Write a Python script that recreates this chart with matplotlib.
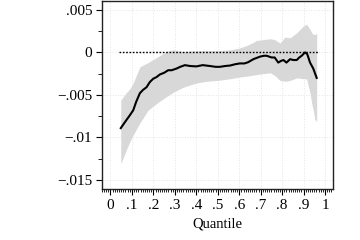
import numpy as np
import matplotlib
matplotlib.use("Agg")
import matplotlib.pyplot as plt
from matplotlib.ticker import FuncFormatter, MultipleLocator

plt.rcParams['font.family'] = ['Liberation Serif', 'DejaVu Serif']

# Quantile process estimate
q_line = [0.048, 0.07, 0.09, 0.106, 0.12, 0.137, 0.152, 0.168, 0.183, 0.199, 0.215, 0.23,
          0.25, 0.269, 0.285, 0.308, 0.325, 0.347, 0.37, 0.40, 0.43, 0.463, 0.49, 0.51,
          0.535, 0.557, 0.58, 0.603, 0.625, 0.642, 0.666, 0.697, 0.715, 0.728, 0.751,
          0.765, 0.782, 0.795, 0.806, 0.82, 0.837, 0.852, 0.868, 0.88, 0.891, 0.907,
          0.917, 0.93, 0.945, 0.961]
est = [-0.0089, -0.0081, -0.0074, -0.0068, -0.0058, -0.0048, -0.0044, -0.0041, -0.0035,
       -0.0031, -0.0029, -0.0026, -0.0024, -0.0021, -0.0021, -0.0019, -0.0017, -0.0015,
       -0.0016, -0.00165, -0.0015, -0.0016, -0.0017, -0.0017, -0.0016, -0.00155, -0.0014,
       -0.0013, -0.0013, -0.00115, -0.0008, -0.0005, -0.0004, -0.0004, -0.0006, -0.0006,
       -0.0012, -0.0010, -0.0009, -0.0012, -0.0008, -0.0009, -0.0009, -0.0006, -0.0004,
       0.0, -0.0002, -0.0012, -0.0019, -0.0030]

# Confidence band
q_band = [0.048, 0.075, 0.09, 0.106, 0.137, 0.175, 0.215, 0.261, 0.292, 0.339, 0.40,
          0.447, 0.50, 0.557, 0.60, 0.634, 0.66, 0.681, 0.744, 0.765, 0.79, 0.813, 0.837,
          0.868, 0.899, 0.914, 0.93, 0.938, 0.945, 0.953, 0.961]
upper = [-0.0056, -0.0047, -0.0043, -0.0036, -0.0017, -0.0012, -0.0006, 0.0001, 0.0003,
         0.0001, 0.0002, 0.0002, 0.0002, 0.0003, 0.0005, 0.0008, 0.0011, 0.0014, 0.0016,
         0.0015, 0.0011, 0.0018, 0.0017, 0.0023, 0.0031, 0.0033, 0.0027, 0.0023, 0.0021,
         0.0021, 0.0022]
lower = [-0.0131, -0.0114, -0.0105, -0.0097, -0.0083, -0.0068, -0.0060, -0.0052, -0.0047,
         -0.0041, -0.0036, -0.0034, -0.0033, -0.0031, -0.0029, -0.0028, -0.0027, -0.0026,
         -0.0024, -0.0027, -0.0033, -0.0034, -0.0033, -0.0030, -0.0031, -0.0031, -0.0048,
         -0.0060, -0.0068, -0.0079, -0.0081]

zero_span = [0.04, 0.97]
x_ticks = [0, .1, .2, .3, .4, .5, .6, .7, .8, .9, 1]
y_ticks = [-0.015, -0.01, -0.005, 0, 0.005]


def no_lead_zero(v, pos):
    if abs(v) < 1e-12:
        return "0"
    s = ("%g" % v).replace("0.", ".")
    return s.replace("-", "\u2212")


fig = plt.figure(figsize=(3.6, 2.4), dpi=100)
ax = fig.add_axes([0.283, 0.2125, 0.642, 0.785])

ax.fill_between(q_band, lower, upper, color="#d8d8d8", linewidth=0)
ax.plot(q_line, est, color="black", linewidth=1.5)
ax.plot(zero_span, [0, 0], color="black", linestyle=(0, (1.2, 1.2)), linewidth=1)

ax.set_xlim(-0.04, 1.037)
ax.set_ylim(-0.01605, 0.00608)
ax.set_xticks(x_ticks)
ax.set_yticks(y_ticks)
ax.xaxis.set_major_formatter(FuncFormatter(no_lead_zero))
ax.yaxis.set_major_formatter(FuncFormatter(no_lead_zero))
ax.xaxis.set_minor_locator(MultipleLocator(0.01))
ax.yaxis.set_minor_locator(MultipleLocator(0.0025))
ax.grid(True, which="major", color="#e4e4e4", linestyle=":", linewidth=0.7)
ax.set_axisbelow(True)

ax.tick_params(which="major", direction="out", length=4, width=0.8, labelsize=11, pad=3)
ax.tick_params(which="minor", direction="out", length=2, width=0.6)
ax.tick_params(axis="y", which="minor", length=3)
for sp in ax.spines.values():
    sp.set_linewidth(1.0)
    sp.set_color("#222222")

ax.set_xlabel("Quantile", fontsize=10.5, labelpad=4)

fig.savefig("out.png", dpi=100)
